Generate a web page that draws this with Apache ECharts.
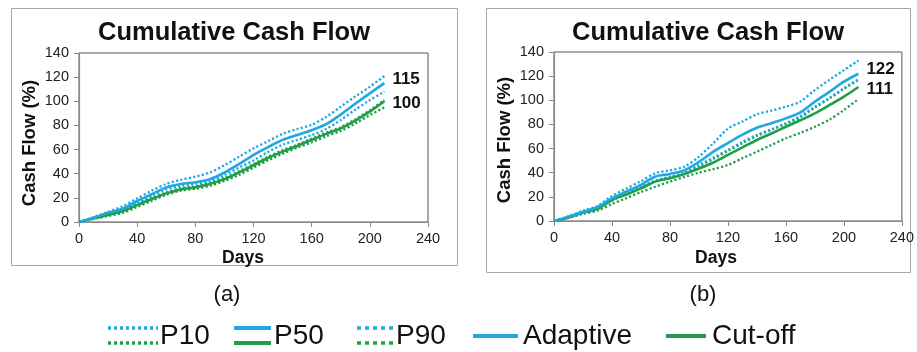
<!DOCTYPE html>
<html>
<head>
<meta charset="utf-8">
<script src="https://cdn.jsdelivr.net/npm/echarts@6/dist/echarts.min.js"></script>
<style>
  html, body { margin: 0; padding: 0; background: #fff; }
  #chart { width: 917px; height: 352px; }
</style>
</head>
<body>
<div id="chart"></div>
<script>
// Sampling days shared by every curve
const days = [0, 10, 20, 30, 40, 50, 60, 70, 80, 90, 100, 110, 120, 130, 140, 150, 160, 170, 180, 190, 200, 210];

// Panel (a)
const aAdaptiveP50 = [0, 3.5, 7.7, 11, 17.4, 23, 28.7, 31.5, 33, 35.5, 41, 48, 55.5, 62, 68, 72, 76, 81, 89, 98, 106.6, 115];
const aAdaptiveP10 = [0, 4, 8.5, 13, 19.6, 26, 31.5, 35, 37.5, 41, 47, 54, 61, 67, 73, 77, 80.5, 87, 95.5, 104, 112, 121];
const aAdaptiveP90 = [0, 3, 7, 10, 16, 22, 27, 30, 31.5, 34, 39, 45, 51, 58, 64, 68, 72, 77, 84.5, 93, 101, 108];
const aCutoffP50 = [0, 3, 5.8, 9, 14, 19, 23.7, 27, 28.7, 31.5, 35.5, 41, 47, 53, 58.3, 63, 68, 73, 77.6, 84, 91.4, 100];
const aCutoffP10 = [0, 3.5, 6.5, 10, 15, 20, 24.5, 28, 29.5, 32.5, 36.5, 42, 48, 54, 59.5, 64, 69, 74, 78.5, 85, 92.5, 101];
const aCutoffP90 = [0, 2.5, 5, 7.5, 12.5, 17.5, 22.5, 26, 27.5, 30, 34, 39, 45, 51, 56.5, 61.5, 66, 71, 75.5, 81.5, 88.5, 95];

// Panel (b)
const bAdaptiveP50 = [0, 3.5, 7.7, 11.5, 18.8, 24.5, 30, 36.8, 39, 42, 49, 57.5, 64.5, 71.5, 77.3, 81, 85, 90, 98.9, 107, 115.4, 122];
const bAdaptiveP10 = [0, 4, 8.5, 12.5, 20.8, 27, 33, 39.6, 42, 45, 53.4, 64.5, 76.5, 82.5, 88.4, 91.5, 94.7, 99, 108.5, 117, 125, 133];
const bAdaptiveP90 = [0, 3, 7, 10.5, 17, 23, 28.5, 33.5, 36.8, 40, 46.5, 52.5, 58.8, 65.5, 71.3, 76, 81, 87, 94.7, 102, 110, 117.5];
const bCutoffP50 = [0, 3, 7, 10, 17.4, 22, 27, 32.6, 35.4, 39, 43.5, 48.5, 54.7, 61, 67.1, 72.5, 78.1, 83.5, 89.2, 96, 103, 111];
const bCutoffP10 = [0, 3, 7, 10.5, 17, 22.5, 28, 33, 36, 39.5, 45.5, 51.5, 58, 64.5, 70.5, 75.5, 80.5, 86, 94, 101.5, 109.5, 117];
const bCutoffP90 = [0, 2.5, 6, 8.5, 14, 19, 24, 28.5, 32.6, 36.5, 40, 43, 46.4, 52, 57.4, 63, 68.5, 73, 78.1, 84, 92, 101];

// Axis ticks
const xTicks = { min: 0, max: 240, interval: 40 };
const yTicks = { min: 0, max: 140, interval: 20 };

const BLUE = '#1fa8e1';
const GREEN = '#1f9e4a';
const FONT = '"Liberation Sans", Arial, sans-serif';

const pairs = vals => days.map((d, i) => [d, vals[i]]);

function solid(name, vals, color, idx, label) {
  const s = {
    name, type: 'line', xAxisIndex: idx, yAxisIndex: idx,
    data: pairs(vals), showSymbol: false, symbol: 'none', smooth: 0.3,
    lineStyle: { color, width: 2.6 }, z: 4
  };
  if (label) {
    s.endLabel = {
      show: true, distance: 8, offset: label.offset,
      formatter: p => String(p.value[1]),
      fontFamily: FONT, fontWeight: 'bold', fontSize: 17, color: '#111'
    };
  }
  return s;
}
function dotted(name, vals, color, idx) {
  return {
    name, type: 'line', xAxisIndex: idx, yAxisIndex: idx,
    data: pairs(vals), showSymbol: false, symbol: 'none', smooth: 0.3,
    lineStyle: { color, width: 2.3, type: [2.2, 2.2], cap: 'butt' }, z: 3
  };
}

function xAxis(idx) {
  return {
    type: 'value', gridIndex: idx, ...xTicks,
    axisLine: { show: true, lineStyle: { color: '#8a8a8a', width: 1.2 } },
    axisTick: { show: true, length: 5, lineStyle: { color: '#8a8a8a' } },
    axisLabel: { fontFamily: FONT, fontSize: 14.5, color: '#222', margin: 9 },
    splitLine: { show: false }
  };
}
function yAxis(idx) {
  return {
    type: 'value', gridIndex: idx, ...yTicks,
    axisLine: { show: true, lineStyle: { color: '#8a8a8a', width: 1.2 } },
    axisTick: { show: true, length: 5, lineStyle: { color: '#8a8a8a' } },
    axisLabel: { fontFamily: FONT, fontSize: 14.5, color: '#222', margin: 10 },
    splitLine: { show: false }
  };
}

function txt(x, y, text, size, weight, align, rotation) {
  return {
    type: 'text', x, y, rotation: rotation || 0, z: 10,
    style: { text, fontFamily: FONT, fontSize: size, fontWeight: weight || 'normal',
             fill: '#111', align: align || 'center', verticalAlign: 'middle' }
  };
}
function hline(x1, x2, y, color, dash, width) {
  return {
    type: 'line', z: 10,
    shape: { x1, y1: y, x2, y2: y },
    style: { stroke: color, lineWidth: width || 3.5, lineDash: dash || null }
  };
}

const DOT = [3, 3];
const legendGraphics = [
  hline(108, 158, 328, BLUE, DOT, 3.5), hline(108, 158, 343, GREEN, DOT, 3.5), txt(160, 336, 'P10', 28, 'normal', 'left'),
  hline(234, 271, 328, BLUE, null, 4), hline(234, 271, 343, GREEN, null, 4), txt(274, 336, 'P50', 28, 'normal', 'left'),
  hline(357, 393, 328, BLUE, [4, 4], 3.5), hline(357, 393, 343, GREEN, [4, 4], 3.5), txt(396, 336, 'P90', 28, 'normal', 'left'),
  hline(473, 518, 336, BLUE, null, 4), txt(523, 336, 'Adaptive', 28, 'normal', 'left'),
  hline(666, 706, 336, GREEN, null, 4), txt(712, 336, 'Cut-off', 28, 'normal', 'left')
];

const option = {
  animation: false,
  backgroundColor: '#fff',
  grid: [
    { left: 79, top: 53, width: 349, height: 169, show: true, borderColor: '#555', borderWidth: 1, backgroundColor: 'transparent' },
    { left: 554, top: 52, width: 348, height: 169, show: true, borderColor: '#555', borderWidth: 1, backgroundColor: 'transparent' }
  ],
  xAxis: [xAxis(0), xAxis(1)],
  yAxis: [yAxis(0), yAxis(1)],
  series: [
    dotted('Cut-off P10 (a)', aCutoffP10, GREEN, 0),
    dotted('Cut-off P90 (a)', aCutoffP90, GREEN, 0),
    solid('Cut-off (a)', aCutoffP50, GREEN, 0, { offset: [0, 2] }),
    dotted('Adaptive P10 (a)', aAdaptiveP10, BLUE, 0),
    dotted('Adaptive P90 (a)', aAdaptiveP90, BLUE, 0),
    solid('Adaptive (a)', aAdaptiveP50, BLUE, 0, { offset: [0, -4] }),

    dotted('Cut-off P10 (b)', bCutoffP10, GREEN, 1),
    dotted('Cut-off P90 (b)', bCutoffP90, GREEN, 1),
    solid('Cut-off (b)', bCutoffP50, GREEN, 1, { offset: [0, 2] }),
    dotted('Adaptive P10 (b)', bAdaptiveP10, BLUE, 1),
    dotted('Adaptive P90 (b)', bAdaptiveP90, BLUE, 1),
    solid('Adaptive (b)', bAdaptiveP50, BLUE, 1, { offset: [0, -4] })
  ],
  graphic: [
    // panel frames
    { type: 'rect', shape: { x: 11.5, y: 8.5, width: 446, height: 257 }, style: { fill: 'none', stroke: '#a8a8a8', lineWidth: 1 }, z: 0 },
    { type: 'rect', shape: { x: 486.5, y: 8.5, width: 424, height: 264 }, style: { fill: 'none', stroke: '#a8a8a8', lineWidth: 1 }, z: 0 },
    // titles
    txt(234, 33, 'Cumulative Cash Flow', 25.5, 'bold'),
    txt(708, 33, 'Cumulative Cash Flow', 25.5, 'bold'),
    // axis names
    txt(30, 143, 'Cash Flow (%)', 18.5, 'bold', 'center', Math.PI / 2),
    txt(505, 140, 'Cash Flow (%)', 18.5, 'bold', 'center', Math.PI / 2),
    txt(243, 258, 'Days', 17.5, 'bold'),
    txt(716, 258, 'Days', 17.5, 'bold'),
    // panel captions
    txt(227, 295, '(a)', 22),
    txt(703, 295, '(b)', 22),
    ...legendGraphics
  ]
};

echarts.init(document.getElementById('chart'), null, { renderer: 'canvas' }).setOption(option);
</script>
</body>
</html>
